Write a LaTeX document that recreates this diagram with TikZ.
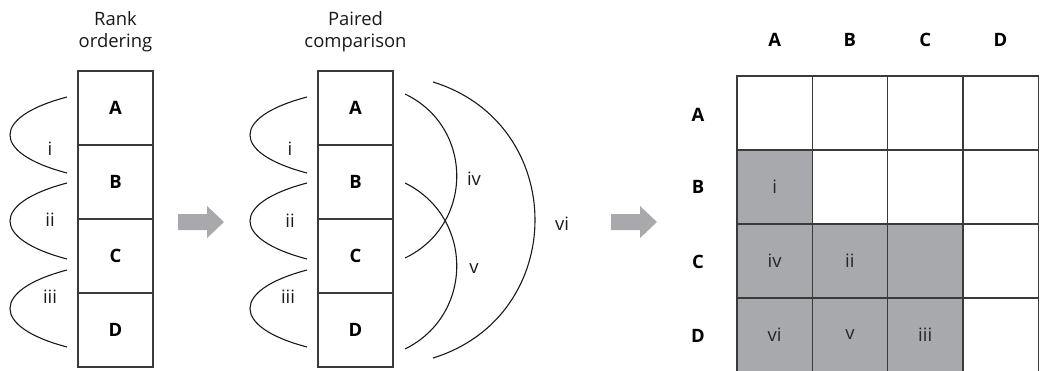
\documentclass[tikz,border=0pt]{standalone}
\usepackage{fontspec}
\setmainfont{Open Sans}
\usepackage{tikz}
\definecolor{cellgrey}{HTML}{A7A9AC}
\definecolor{linegrey}{HTML}{3A3A3A}
\tikzset{
  letterbox/.style={draw=linegrey, line width=1.3bp, minimum width=75bp, minimum height=74bp, inner sep=0pt, font=\bfseries\fontsize{18.5}{22}\selectfont},
  gridcell/.style={draw=linegrey, line width=1.3bp, minimum width=75.3bp, minimum height=74bp, inner sep=0pt, font=\fontsize{18.5}{22}\selectfont, text=black!85},
  shaded/.style={gridcell, fill=cellgrey},
  headlabel/.style={inner sep=0pt, font=\bfseries\fontsize{18.5}{22}\selectfont},
  numlabel/.style={inner sep=0pt, font=\fontsize{18.5}{22}\selectfont, text=black!90},
  title/.style={inner sep=0pt, align=center, font=\fontsize{18.5}{22}\selectfont, text=black!90},
  pairarc/.style={line width=1.1bp, draw=black!90}
}

\begin{document}
\begin{tikzpicture}[x=1bp, y=-1bp]
\useasboundingbox (0,0) rectangle (1045,370);
%% rank ordering
\node[title] (ranktitle) at (115.5,32) {Rank\\ordering};
\node[letterbox] (rA) at (115.5,108) {A};
\node[letterbox] (rB) at (115.5,182) {B};
\node[letterbox] (rC) at (115.5,256) {C};
\node[letterbox] (rD) at (115.5,330) {D};
\coordinate (ri1) at (67,97);  \coordinate (ri2) at (67,173);
\coordinate (rii1) at (67,183); \coordinate (rii2) at (67,259);
\coordinate (riii1) at (67,270); \coordinate (riii2) at (67,347);
\draw[pairarc] (ri1) .. controls +(-76,20) and +(-76,-20) .. (ri2);
\draw[pairarc] (rii1) .. controls +(-76,20) and +(-76,-20) .. (rii2);
\draw[pairarc] (riii1) .. controls +(-76,20) and +(-76,-20) .. (riii2);
\node[numlabel] (rli) at (50,149) {i};
\node[numlabel] (rlii) at (50,220) {ii};
\node[numlabel] (rliii) at (50,297) {iii};
%%------------
\path[fill=cellgrey] (178,214) -- (207,214) -- (207,206) -- (224,222) -- (207,238) -- (207,230) -- (178,230) -- cycle;
%% paired comparison
\node[title] (pairtitle) at (355.5,32) {Paired\\comparison};
\node[letterbox] (pA) at (355.5,108) {A};
\node[letterbox] (pB) at (355.5,182) {B};
\node[letterbox] (pC) at (355.5,256) {C};
\node[letterbox] (pD) at (355.5,330) {D};
\coordinate (pi1) at (307,97);  \coordinate (pi2) at (307,173);
\coordinate (pii1) at (307,183); \coordinate (pii2) at (307,259);
\coordinate (piii1) at (307,270); \coordinate (piii2) at (307,347);
\draw[pairarc] (pi1) .. controls +(-76,20) and +(-76,-20) .. (pi2);
\draw[pairarc] (pii1) .. controls +(-76,20) and +(-76,-20) .. (pii2);
\draw[pairarc] (piii1) .. controls +(-76,20) and +(-76,-20) .. (piii2);
\node[numlabel] (pli) at (290,149) {i};
\node[numlabel] (plii) at (290,221) {ii};
\node[numlabel] (pliii) at (288,297) {iii};
\coordinate (piv1) at (405,94);  \coordinate (piv2) at (405,258);
\coordinate (pv1) at (405,183);  \coordinate (pv2) at (405,349);
\coordinate (pvi1) at (433,82);  \coordinate (pvi2) at (433,358);
\draw[pairarc] (piv1) .. controls +(69,33) and +(69,-33) .. (piv2);
\draw[pairarc] (pv1) .. controls +(69,34) and +(69,-34) .. (pv2);
\draw[pairarc] (pvi1) .. controls +(136,42) and +(136,-42) .. (pvi2);
\node[numlabel] (pliv) at (474,179) {iv};
\node[numlabel] (plv) at (474,269) {v};
\node[numlabel] (plvi) at (562,224) {vi};
%%------------
\path[fill=cellgrey] (611,214) -- (640,214) -- (640,206) -- (657,222) -- (640,238) -- (640,230) -- (611,230) -- cycle;
%% matrix
\node[headlabel] (colA) at (774.6,40) {A};
\node[headlabel] (colB) at (849.9,40) {B};
\node[headlabel] (colC) at (925.2,40) {C};
\node[headlabel] (colD) at (1000.5,40) {D};
\node[headlabel] (rowA) at (698,115) {A};
\node[headlabel] (rowB) at (698,187) {B};
\node[headlabel] (rowC) at (698,262) {C};
\node[headlabel] (rowD) at (698,336) {D};
\node[gridcell] (mAA) at (774.6,113) {};
\node[gridcell] (mAB) at (849.9,113) {};
\node[gridcell] (mAC) at (925.2,113) {};
\node[gridcell] (mAD) at (1000.5,113) {};
\node[shaded] (mBA) at (774.6,187) {i};
\node[gridcell] (mBB) at (849.9,187) {};
\node[gridcell] (mBC) at (925.2,187) {};
\node[gridcell] (mBD) at (1000.5,187) {};
\node[shaded] (mCA) at (774.6,261) {iv};
\node[shaded] (mCB) at (849.9,261) {ii};
\node[shaded] (mCC) at (925.2,261) {};
\node[gridcell] (mCD) at (1000.5,261) {};
\node[shaded] (mDA) at (774.6,335) {vi};
\node[shaded] (mDB) at (849.9,335) {v};
\node[shaded] (mDC) at (925.2,335) {iii};
\node[gridcell] (mDD) at (1000.5,335) {};
\end{tikzpicture}
\end{document}
